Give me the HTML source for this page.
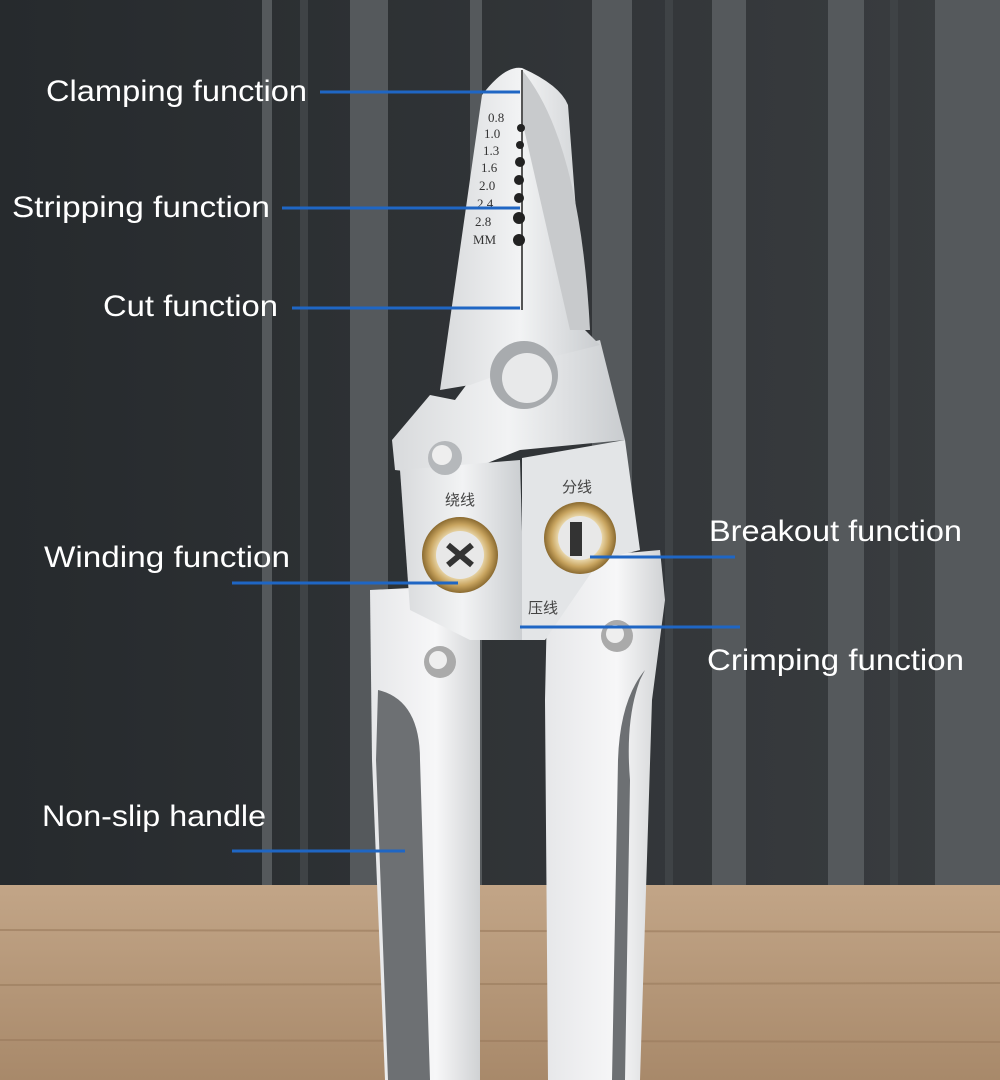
<!DOCTYPE html>
<html><head><style>
html,body{margin:0;padding:0;width:1000px;height:1080px;overflow:hidden;background:#2b2e31}
svg{display:block}
text{font-family:"Liberation Sans",sans-serif;fill:#fff;font-size:30px}
</style></head><body>
<svg width="1000" height="1080" viewBox="0 0 1000 1080">
<defs>
<linearGradient id="bg" x1="0" x2="1"><stop offset="0" stop-color="#262a2d"/><stop offset="1" stop-color="#3a3d40"/></linearGradient>
<linearGradient id="wood" x1="0" y1="0" x2="0" y2="1"><stop offset="0" stop-color="#c2a587"/><stop offset="1" stop-color="#a8896a"/></linearGradient>
<linearGradient id="steel" x1="0" x2="1"><stop offset="0" stop-color="#d8dadc"/><stop offset="0.5" stop-color="#f2f3f4"/><stop offset="1" stop-color="#c9cccf"/></linearGradient>
<linearGradient id="hand" x1="0" x2="1"><stop offset="0" stop-color="#e6e7e9"/><stop offset="0.6" stop-color="#f7f7f8"/><stop offset="1" stop-color="#d0d2d4"/></linearGradient>
<radialGradient id="gold"><stop offset="0.55" stop-color="#f3e6c0"/><stop offset="0.8" stop-color="#c9a560"/><stop offset="1" stop-color="#8a6a30"/></radialGradient>
</defs>
<rect width="1000" height="890" fill="url(#bg)"/>
<g fill="#55595c">
<rect x="262" y="0" width="10" height="885"/>
<rect x="350" y="0" width="38" height="885"/>
<rect x="470" y="0" width="12" height="885"/>
<rect x="592" y="0" width="40" height="885"/>
<rect x="712" y="0" width="34" height="885"/>
<rect x="828" y="0" width="36" height="885"/>
<rect x="935" y="0" width="65" height="885"/>
</g>
<g fill="#3f4346"><rect x="300" y="0" width="8" height="885"/><rect x="665" y="0" width="8" height="885"/><rect x="890" y="0" width="8" height="885"/></g>
<rect y="885" width="1000" height="195" fill="url(#wood)"/>
<g stroke="#9a7b5d" stroke-width="2" opacity="0.6"><line x1="0" y1="930" x2="1000" y2="932"/><line x1="0" y1="985" x2="1000" y2="983"/><line x1="0" y1="1040" x2="1000" y2="1042"/></g>
<path d="M370 590 L470 585 L480 640 L480 1080 L385 1080 L372 760 Z" fill="url(#hand)"/>
<path d="M548 560 L660 550 L665 600 L652 700 L640 1080 L548 1080 L545 700 Z" fill="url(#hand)"/>
<path d="M378 690 Q420 700 420 760 L430 1080 L388 1080 L376 760 Z" fill="#6d7073"/>
<path d="M640 680 Q625 720 630 780 L625 1080 L612 1080 L618 760 Q620 700 645 670 Z" fill="#6d7073"/>
<path d="M392 440 L430 395 L455 400 L470 380 L520 360 L600 340 L625 440 L520 450 L470 470 L440 475 L395 470 Z" fill="url(#steel)"/>
<path d="M400 470 L520 460 L525 640 L470 640 L410 610 Z" fill="url(#steel)"/>
<path d="M522 458 L625 440 L640 550 L600 560 L545 640 L522 640 Z" fill="#e3e5e7"/>
<path d="M482 95 Q505 65 522 68 Q560 85 568 105 L585 330 L600 345 L540 360 L470 385 L440 390 Z" fill="url(#steel)"/>
<path d="M522 70 Q580 140 590 330 L570 330 L522 120 Z" fill="#c8cacc"/>
<line x1="522" y1="70" x2="522" y2="310" stroke="#555" stroke-width="2"/>
<g fill="#222"><circle cx="521" cy="128" r="4"/><circle cx="520" cy="145" r="4"/><circle cx="520" cy="162" r="5"/><circle cx="519" cy="180" r="5"/><circle cx="519" cy="198" r="5"/><circle cx="519" cy="218" r="6"/><circle cx="519" cy="240" r="6"/></g>
<g><text x="488" y="122" style="fill:#333;font-size:13px;font-family:'Liberation Serif'">0.8</text><text x="484" y="138" style="fill:#333;font-size:13px;font-family:'Liberation Serif'">1.0</text><text x="483" y="155" style="fill:#333;font-size:13px;font-family:'Liberation Serif'">1.3</text><text x="481" y="172" style="fill:#333;font-size:13px;font-family:'Liberation Serif'">1.6</text><text x="479" y="190" style="fill:#333;font-size:13px;font-family:'Liberation Serif'">2.0</text><text x="477" y="208" style="fill:#333;font-size:13px;font-family:'Liberation Serif'">2.4</text><text x="475" y="226" style="fill:#333;font-size:13px;font-family:'Liberation Serif'">2.8</text><text x="473" y="244" style="fill:#333;font-size:13px;font-family:'Liberation Serif'">MM</text></g>
<circle cx="524" cy="375" r="34" fill="#a8abae"/><circle cx="527" cy="378" r="25" fill="#e8e9ea"/>
<circle cx="445" cy="458" r="17" fill="#b5b8bb"/><circle cx="442" cy="455" r="10" fill="#eee"/>
<circle cx="460" cy="555" r="38" fill="url(#gold)"/><circle cx="460" cy="555" r="24" fill="#e8e8e8"/>
<path d="M448 545 L472 565 M472 545 L448 565" stroke="#333" stroke-width="6"/>
<circle cx="580" cy="538" r="36" fill="url(#gold)"/><circle cx="580" cy="538" r="22" fill="#e8e8e8"/><rect x="570" y="522" width="12" height="34" fill="#333"/>
<circle cx="440" cy="662" r="16" fill="#aaa"/><circle cx="438" cy="660" r="9" fill="#eee"/>
<circle cx="617" cy="636" r="16" fill="#aaa"/><circle cx="615" cy="634" r="9" fill="#eee"/>
<text x="445" y="505" style="fill:#444;font-size:15px;font-family:'Noto Sans CJK SC',sans-serif">绕线</text>
<text x="562" y="492" style="fill:#444;font-size:15px;font-family:'Noto Sans CJK SC',sans-serif">分线</text>
<text x="528" y="613" style="fill:#444;font-size:15px;font-family:'Noto Sans CJK SC',sans-serif">压线</text>
<g stroke="#1f66c4" stroke-width="3">
<line x1="320" y1="92" x2="520" y2="92"/>
<line x1="282" y1="208" x2="520" y2="208"/>
<line x1="292" y1="308" x2="520" y2="308"/>
<line x1="232" y1="583" x2="458" y2="583"/>
<line x1="590" y1="557" x2="735" y2="557"/>
<line x1="520" y1="627" x2="740" y2="627"/>
<line x1="232" y1="851" x2="405" y2="851"/>
</g>
<text x="46" y="101" textLength="261" lengthAdjust="spacingAndGlyphs">Clamping function</text>
<text x="12" y="217" textLength="258" lengthAdjust="spacingAndGlyphs">Stripping function</text>
<text x="103" y="316" textLength="175" lengthAdjust="spacingAndGlyphs">Cut function</text>
<text x="44" y="567" textLength="246" lengthAdjust="spacingAndGlyphs">Winding function</text>
<text x="709" y="541" textLength="253" lengthAdjust="spacingAndGlyphs">Breakout function</text>
<text x="707" y="670" textLength="257" lengthAdjust="spacingAndGlyphs">Crimping function</text>
<text x="42" y="826" textLength="224" lengthAdjust="spacingAndGlyphs">Non-slip handle</text>
</svg>
</body></html>
